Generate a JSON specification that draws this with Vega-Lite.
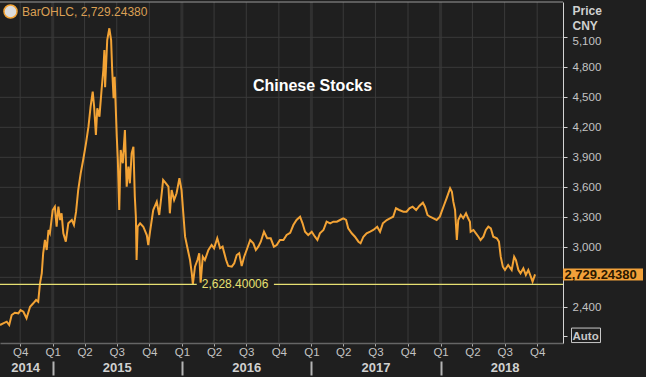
{
  "$schema": "https://vega.github.io/schema/vega-lite/v6.json",
  "width": 563,
  "height": 341,
  "autosize": "none",
  "padding": {"left": 0, "top": 2, "right": 83, "bottom": 34},
  "background": "#1f1f1f",
  "config": {
    "view": {"stroke": null},
    "font": "Liberation Sans",
    "axis": {"labelFont": "Liberation Sans", "titleFont": "Liberation Sans"},
    "legend": {"labelFont": "Liberation Sans"}
  },
  "title": {
    "text": "Chinese Stocks",
    "color": "#ffffff",
    "fontSize": 16,
    "fontWeight": "bold",
    "font": "Liberation Sans",
    "anchor": "middle",
    "frame": "group",
    "orient": "top",
    "offset": 0,
    "baseline": "middle",
    "dx": 31,
    "dy": 101
  },
  "datasets": {
    "one": [{}],
    "quarters": [
      {"q": "2014-10-01"}, {"q": "2015-01-01"}, {"q": "2015-04-01"}, {"q": "2015-07-01"}, {"q": "2015-10-01"},
      {"q": "2016-01-01"}, {"q": "2016-04-01"}, {"q": "2016-07-01"}, {"q": "2016-10-01"},
      {"q": "2017-01-01"}, {"q": "2017-04-01"}, {"q": "2017-07-01"}, {"q": "2017-10-01"},
      {"q": "2018-01-01"}, {"q": "2018-04-01"}, {"q": "2018-07-01"}, {"q": "2018-10-01"}
    ],
    "years": [{"y": "2015-01-01"}, {"y": "2016-01-01"}, {"y": "2017-01-01"}, {"y": "2018-01-01"}],
    "levels": [
      {"p": 2400}, {"p": 2700}, {"p": 3000}, {"p": 3300}, {"p": 3600},
      {"p": 3900}, {"p": 4200}, {"p": 4500}, {"p": 4800}, {"p": 5100}
    ],
    "prices": [
      {"date": "2014-08-05", "price": 2223}, {"date": "2014-08-14", "price": 2240}, {"date": "2014-08-24", "price": 2256},
      {"date": "2014-08-31", "price": 2223}, {"date": "2014-09-07", "price": 2323}, {"date": "2014-09-16", "price": 2346},
      {"date": "2014-09-26", "price": 2340}, {"date": "2014-10-02", "price": 2373}, {"date": "2014-10-10", "price": 2356},
      {"date": "2014-10-19", "price": 2290}, {"date": "2014-10-29", "price": 2406}, {"date": "2014-11-07", "price": 2440},
      {"date": "2014-11-15", "price": 2473}, {"date": "2014-11-21", "price": 2456}, {"date": "2014-11-26", "price": 2640},
      {"date": "2014-12-01", "price": 2740}, {"date": "2014-12-05", "price": 2940}, {"date": "2014-12-10", "price": 3073},
      {"date": "2014-12-15", "price": 2973}, {"date": "2014-12-20", "price": 3173}, {"date": "2014-12-24", "price": 3140},
      {"date": "2015-01-01", "price": 3373}, {"date": "2015-01-07", "price": 3406}, {"date": "2015-01-12", "price": 3206},
      {"date": "2015-01-17", "price": 3406}, {"date": "2015-01-22", "price": 3273}, {"date": "2015-01-26", "price": 3340},
      {"date": "2015-01-31", "price": 3140}, {"date": "2015-02-07", "price": 3056}, {"date": "2015-02-14", "price": 3240},
      {"date": "2015-02-24", "price": 3273}, {"date": "2015-03-02", "price": 3223}, {"date": "2015-03-08", "price": 3356},
      {"date": "2015-03-14", "price": 3573}, {"date": "2015-03-21", "price": 3740}, {"date": "2015-03-28", "price": 3873},
      {"date": "2015-04-05", "price": 4040}, {"date": "2015-04-12", "price": 4206}, {"date": "2015-04-18", "price": 4406},
      {"date": "2015-04-24", "price": 4556}, {"date": "2015-04-28", "price": 4406}, {"date": "2015-05-03", "price": 4123},
      {"date": "2015-05-07", "price": 4390}, {"date": "2015-05-13", "price": 4306}, {"date": "2015-05-19", "price": 4573},
      {"date": "2015-05-24", "price": 4773}, {"date": "2015-05-27", "price": 4973}, {"date": "2015-05-29", "price": 4600},
      {"date": "2015-06-04", "price": 5073}, {"date": "2015-06-10", "price": 5190}, {"date": "2015-06-15", "price": 5073},
      {"date": "2015-06-18", "price": 4773}, {"date": "2015-06-22", "price": 4490}, {"date": "2015-06-25", "price": 4706},
      {"date": "2015-07-01", "price": 4106}, {"date": "2015-07-04", "price": 3873}, {"date": "2015-07-08", "price": 3373},
      {"date": "2015-07-12", "price": 3973}, {"date": "2015-07-18", "price": 3840}, {"date": "2015-07-24", "price": 4173},
      {"date": "2015-07-29", "price": 3606}, {"date": "2015-08-03", "price": 3806}, {"date": "2015-08-07", "price": 3640},
      {"date": "2015-08-12", "price": 3940}, {"date": "2015-08-17", "price": 4006}, {"date": "2015-08-21", "price": 3506},
      {"date": "2015-08-24", "price": 3300}, {"date": "2015-08-26", "price": 2873}, {"date": "2015-08-29", "price": 3206},
      {"date": "2015-09-05", "price": 3240}, {"date": "2015-09-14", "price": 3206}, {"date": "2015-09-24", "price": 3120},
      {"date": "2015-09-28", "price": 3023}, {"date": "2015-10-03", "price": 3156}, {"date": "2015-10-12", "price": 3373},
      {"date": "2015-10-22", "price": 3456}, {"date": "2015-10-29", "price": 3323}, {"date": "2015-11-05", "price": 3540},
      {"date": "2015-11-09", "price": 3673}, {"date": "2015-11-17", "price": 3640}, {"date": "2015-11-24", "price": 3606},
      {"date": "2015-11-28", "price": 3340}, {"date": "2015-12-03", "price": 3573}, {"date": "2015-12-10", "price": 3473},
      {"date": "2015-12-17", "price": 3540}, {"date": "2015-12-25", "price": 3690}, {"date": "2015-12-31", "price": 3573},
      {"date": "2016-01-05", "price": 3340}, {"date": "2016-01-10", "price": 3106}, {"date": "2016-01-16", "price": 3006},
      {"date": "2016-01-24", "price": 2873}, {"date": "2016-01-29", "price": 2740}, {"date": "2016-02-01", "price": 2630},
      {"date": "2016-02-07", "price": 2806}, {"date": "2016-02-14", "price": 2873}, {"date": "2016-02-19", "price": 2940},
      {"date": "2016-02-23", "price": 2646}, {"date": "2016-02-29", "price": 2906}, {"date": "2016-03-06", "price": 2873},
      {"date": "2016-03-16", "price": 2973}, {"date": "2016-03-25", "price": 3023}, {"date": "2016-04-01", "price": 2990},
      {"date": "2016-04-10", "price": 3090}, {"date": "2016-04-18", "price": 2990}, {"date": "2016-04-25", "price": 3006},
      {"date": "2016-05-05", "price": 2873}, {"date": "2016-05-11", "price": 2813}, {"date": "2016-05-21", "price": 2806},
      {"date": "2016-05-28", "price": 2840}, {"date": "2016-06-04", "price": 2923}, {"date": "2016-06-11", "price": 2940},
      {"date": "2016-06-18", "price": 2813}, {"date": "2016-06-25", "price": 2906}, {"date": "2016-07-02", "price": 2973},
      {"date": "2016-07-12", "price": 3073}, {"date": "2016-07-21", "price": 3040}, {"date": "2016-07-28", "price": 2973},
      {"date": "2016-08-04", "price": 3006}, {"date": "2016-08-11", "price": 3056}, {"date": "2016-08-20", "price": 3156},
      {"date": "2016-08-29", "price": 3090}, {"date": "2016-09-08", "price": 3090}, {"date": "2016-09-17", "price": 3006},
      {"date": "2016-09-25", "price": 3023}, {"date": "2016-10-04", "price": 3073}, {"date": "2016-10-14", "price": 3073},
      {"date": "2016-10-23", "price": 3123}, {"date": "2016-11-02", "price": 3145}, {"date": "2016-11-11", "price": 3223},
      {"date": "2016-11-20", "price": 3273}, {"date": "2016-11-30", "price": 3306}, {"date": "2016-12-07", "price": 3240},
      {"date": "2016-12-14", "price": 3156}, {"date": "2016-12-23", "price": 3123}, {"date": "2017-01-02", "price": 3156},
      {"date": "2017-01-11", "price": 3106}, {"date": "2017-01-18", "price": 3073}, {"date": "2017-01-25", "price": 3140},
      {"date": "2017-02-04", "price": 3173}, {"date": "2017-02-13", "price": 3256}, {"date": "2017-02-23", "price": 3240},
      {"date": "2017-03-04", "price": 3256}, {"date": "2017-03-14", "price": 3256}, {"date": "2017-03-23", "price": 3273},
      {"date": "2017-04-01", "price": 3290}, {"date": "2017-04-09", "price": 3273}, {"date": "2017-04-15", "price": 3190},
      {"date": "2017-04-25", "price": 3140}, {"date": "2017-05-04", "price": 3106}, {"date": "2017-05-14", "price": 3056},
      {"date": "2017-05-20", "price": 3040}, {"date": "2017-05-28", "price": 3106}, {"date": "2017-06-06", "price": 3140},
      {"date": "2017-06-16", "price": 3156}, {"date": "2017-06-25", "price": 3173}, {"date": "2017-07-06", "price": 3206},
      {"date": "2017-07-14", "price": 3156}, {"date": "2017-07-22", "price": 3240}, {"date": "2017-08-02", "price": 3273},
      {"date": "2017-08-11", "price": 3290}, {"date": "2017-08-20", "price": 3306}, {"date": "2017-08-28", "price": 3390},
      {"date": "2017-09-06", "price": 3373}, {"date": "2017-09-18", "price": 3356}, {"date": "2017-09-27", "price": 3356},
      {"date": "2017-10-05", "price": 3390}, {"date": "2017-10-14", "price": 3406}, {"date": "2017-10-24", "price": 3373},
      {"date": "2017-11-02", "price": 3413}, {"date": "2017-11-12", "price": 3446}, {"date": "2017-11-18", "price": 3406},
      {"date": "2017-11-25", "price": 3323}, {"date": "2017-12-02", "price": 3306}, {"date": "2017-12-12", "price": 3290},
      {"date": "2017-12-21", "price": 3273}, {"date": "2017-12-30", "price": 3306}, {"date": "2018-01-04", "price": 3356},
      {"date": "2018-01-11", "price": 3423}, {"date": "2018-01-18", "price": 3490}, {"date": "2018-01-23", "price": 3540},
      {"date": "2018-01-28", "price": 3590}, {"date": "2018-02-02", "price": 3556}, {"date": "2018-02-06", "price": 3456},
      {"date": "2018-02-11", "price": 3373}, {"date": "2018-02-16", "price": 3073}, {"date": "2018-02-20", "price": 3273},
      {"date": "2018-02-27", "price": 3323}, {"date": "2018-03-06", "price": 3290}, {"date": "2018-03-14", "price": 3340},
      {"date": "2018-03-20", "price": 3290}, {"date": "2018-03-25", "price": 3256}, {"date": "2018-03-27", "price": 3156},
      {"date": "2018-04-04", "price": 3173}, {"date": "2018-04-11", "price": 3140}, {"date": "2018-04-18", "price": 3106},
      {"date": "2018-04-24", "price": 3073}, {"date": "2018-05-02", "price": 3106}, {"date": "2018-05-09", "price": 3173},
      {"date": "2018-05-16", "price": 3206}, {"date": "2018-05-23", "price": 3190}, {"date": "2018-05-30", "price": 3106},
      {"date": "2018-06-09", "price": 3090}, {"date": "2018-06-15", "price": 3056}, {"date": "2018-06-20", "price": 2906},
      {"date": "2018-06-26", "price": 2806}, {"date": "2018-07-02", "price": 2773}, {"date": "2018-07-11", "price": 2823},
      {"date": "2018-07-21", "price": 2773}, {"date": "2018-07-28", "price": 2906}, {"date": "2018-08-02", "price": 2873},
      {"date": "2018-08-09", "price": 2773}, {"date": "2018-08-15", "price": 2740}, {"date": "2018-08-23", "price": 2790},
      {"date": "2018-08-30", "price": 2723}, {"date": "2018-09-06", "price": 2773}, {"date": "2018-09-13", "price": 2706},
      {"date": "2018-09-18", "price": 2656}, {"date": "2018-09-25", "price": 2729.2438}
    ]
  },
  "resolve": {"axis": {"x": "independent", "y": "independent"}},
  "layer": [
    {
      "data": {"name": "quarters"},
      "mark": {"type": "rule", "color": "#3a3a3a", "strokeWidth": 1},
      "encoding": {"x": {"field": "q", "type": "temporal", "axis": null}}
    },
    {
      "data": {"name": "years"},
      "mark": {"type": "rule", "color": "#303030", "strokeWidth": 3},
      "encoding": {"x": {"field": "y", "type": "temporal", "axis": null}}
    },
    {
      "data": {"name": "levels"},
      "mark": {"type": "rule", "color": "#3a3a3a", "strokeWidth": 1},
      "encoding": {"y": {"field": "p", "type": "quantitative", "axis": null}}
    },
    {
      "data": {"name": "prices"},
      "mark": {"type": "line", "color": "#f3a335", "strokeWidth": 2, "strokeJoin": "miter"},
      "encoding": {
        "x": {
          "field": "date",
          "type": "temporal",
          "scale": {
            "type": "utc",
            "domain": [{"year": 2014, "month": 8, "date": 5, "utc": true}, {"year": 2018, "month": 12, "date": 13, "utc": true}]
          },
          "axis": {
            "orient": "bottom",
            "title": null,
            "values": [
              {"year": 2014, "month": 10, "date": 1, "utc": true},
              {"year": 2015, "month": 1, "date": 1, "utc": true}, {"year": 2015, "month": 4, "date": 1, "utc": true},
              {"year": 2015, "month": 7, "date": 1, "utc": true}, {"year": 2015, "month": 10, "date": 1, "utc": true},
              {"year": 2016, "month": 1, "date": 1, "utc": true}, {"year": 2016, "month": 4, "date": 1, "utc": true},
              {"year": 2016, "month": 7, "date": 1, "utc": true}, {"year": 2016, "month": 10, "date": 1, "utc": true},
              {"year": 2017, "month": 1, "date": 1, "utc": true}, {"year": 2017, "month": 4, "date": 1, "utc": true},
              {"year": 2017, "month": 7, "date": 1, "utc": true}, {"year": 2017, "month": 10, "date": 1, "utc": true},
              {"year": 2018, "month": 1, "date": 1, "utc": true}, {"year": 2018, "month": 4, "date": 1, "utc": true},
              {"year": 2018, "month": 7, "date": 1, "utc": true}, {"year": 2018, "month": 10, "date": 1, "utc": true}
            ],
            "labelExpr": "'Q' + utcquarter(datum.value)",
            "grid": false,
            "domainColor": "#666666",
            "domainWidth": 1.5,
            "tickColor": "#b0b0b0",
            "tickSize": 3,
            "labelColor": "#c4c4c4",
            "labelFontSize": 11.5,
            "labelPadding": 0,
            "labelFlush": false,
            "labelOverlap": false
          }
        },
        "y": {
          "field": "price",
          "type": "quantitative",
          "scale": {"domain": [2043, 5453], "zero": false, "nice": false},
          "axis": {
            "orient": "right",
            "values": [2400, 2700, 3000, 3300, 3600, 3900, 4200, 4500, 4800, 5100],
            "labelExpr": "datum.value == 2700 ? '' : format(datum.value, ',')",
            "grid": false,
            "domainColor": "#d4d4d4",
            "tickColor": "#d4d4d4",
            "tickSize": 4,
            "labelColor": "#c4c4c4",
            "labelFontSize": 11.5,
            "labelPadding": 5,
            "labelOffset": {"condition": {"test": "datum.value == 5100", "value": 4}, "value": 0},
            "title": ["Price", "CNY"],
            "titleAngle": 0,
            "titleAlign": "left",
            "titleBaseline": "top",
            "titleX": 9,
            "titleY": 3,
            "titleColor": "#d0d0d0",
            "titleFontSize": 12,
            "titleFontWeight": "bold",
            "titleLineHeight": 15
          }
        },
        "color": {
          "datum": "BarOHLC, 2,729.24380",
          "scale": {"range": ["#f3a335"]},
          "legend": {
            "orient": "none",
            "legendX": 3,
            "legendY": 2,
            "title": null,
            "padding": 0,
            "symbolType": "circle",
            "symbolSize": 170,
            "symbolStrokeWidth": 1.5,
            "labelColor": "#dba055",
            "labelFontSize": 12,
            "labelOffset": 4,
            "encode": {
              "symbols": {"update": {"fill": {"value": "#dcdcdc"}, "stroke": {"value": "#8c8c8c"}, "opacity": {"value": 1}}}
            }
          }
        }
      }
    },
    {
      "data": {"name": "prices"},
      "mark": {"type": "line", "opacity": 0},
      "encoding": {
        "x": {
          "field": "date",
          "type": "temporal",
          "axis": {
            "orient": "bottom",
            "offset": 18,
            "title": null,
            "values": [
              {"year": 2014, "month": 10, "date": 15, "utc": true},
              {"year": 2015, "month": 1, "date": 1, "utc": true}, {"year": 2015, "month": 7, "date": 1, "utc": true},
              {"year": 2016, "month": 1, "date": 1, "utc": true}, {"year": 2016, "month": 7, "date": 1, "utc": true},
              {"year": 2017, "month": 1, "date": 1, "utc": true}, {"year": 2017, "month": 7, "date": 1, "utc": true},
              {"year": 2018, "month": 1, "date": 1, "utc": true}, {"year": 2018, "month": 7, "date": 1, "utc": true}
            ],
            "labelExpr": "utcmonth(datum.value) == 0 ? '' : '' + utcyear(datum.value)",
            "domain": false,
            "grid": false,
            "tickSize": 14,
            "tickWidth": 2,
            "tickColor": "#b4b4b4",
            "tickOpacity": {"condition": {"test": "utcmonth(datum.value) == 0", "value": 1}, "value": 0},
            "labelColor": "#d0d0d0",
            "labelFontSize": 13,
            "labelFontWeight": "bold",
            "labelPadding": -14,
            "labelFlush": false,
            "labelOverlap": false,
            "labelBound": false
          }
        },
        "y": {"field": "price", "type": "quantitative", "axis": null}
      }
    },
    {
      "data": {"name": "one"},
      "mark": {"type": "rule", "color": "#9a9a9a", "strokeWidth": 1},
      "encoding": {"y": {"datum": 5453, "axis": null}}
    },
    {
      "data": {"name": "one"},
      "mark": {"type": "rule", "color": "#e6e072", "strokeWidth": 1.3},
      "encoding": {
        "x": {"datum": {"year": 2014, "month": 8, "date": 5, "utc": true}, "type": "temporal", "axis": null},
        "x2": {"datum": {"year": 2016, "month": 2, "date": 12, "utc": true}},
        "y": {"datum": 2628.40006, "axis": null}
      }
    },
    {
      "data": {"name": "one"},
      "mark": {"type": "rule", "color": "#e6e072", "strokeWidth": 1.3},
      "encoding": {
        "x": {"datum": {"year": 2016, "month": 9, "date": 17, "utc": true}, "type": "temporal", "axis": null},
        "x2": {"datum": {"year": 2018, "month": 12, "date": 13, "utc": true}},
        "y": {"datum": 2628.40006, "axis": null}
      }
    },
    {
      "data": {"name": "one"},
      "mark": {"type": "text", "align": "left", "baseline": "middle", "fontSize": 12, "color": "#e6e072"},
      "encoding": {
        "x": {"datum": {"year": 2016, "month": 2, "date": 26, "utc": true}, "type": "temporal", "axis": null},
        "y": {"datum": 2628.40006, "axis": null},
        "text": {"value": "2,628.40006"}
      }
    },
    {
      "data": {"name": "one"},
      "mark": {"type": "point", "shape": "M0,-0.15L2,-0.15L2,0.15L0,0.15Z", "size": 6400, "filled": true, "color": "#f2a13a", "opacity": 1, "strokeWidth": 0},
      "encoding": {
        "x": {"datum": {"year": 2018, "month": 12, "date": 13, "utc": true}, "type": "temporal", "axis": null},
        "y": {"datum": 2729.2438, "axis": null}
      }
    },
    {
      "data": {"name": "one"},
      "mark": {"type": "text", "align": "left", "baseline": "middle", "fontSize": 13, "fontWeight": "bold", "color": "#2a1800", "dx": 1.5, "dy": 0.5},
      "encoding": {
        "x": {"datum": {"year": 2018, "month": 12, "date": 13, "utc": true}, "type": "temporal", "axis": null},
        "y": {"datum": 2729.2438, "axis": null},
        "text": {"value": "2,729.24380"}
      }
    },
    {
      "data": {"name": "one"},
      "mark": {"type": "point", "shape": "M0,-0.5L2,-0.5L2,0.5L0,0.5Z", "size": 841, "filled": false, "color": "#c8c8c8", "strokeWidth": 1, "opacity": 1, "xOffset": 8.5, "yOffset": -1},
      "encoding": {
        "x": {"datum": {"year": 2018, "month": 12, "date": 13, "utc": true}, "type": "temporal", "axis": null},
        "y": {
          "datum": 2110,
          "axis": {
            "orient": "right",
            "values": [2110],
            "labelExpr": "'Auto'",
            "title": null,
            "grid": false,
            "domain": false,
            "tickColor": "#d4d4d4",
            "tickSize": 4,
            "labelColor": "#c8c8c8",
            "labelFontSize": 11.5,
            "labelFontWeight": "bold",
            "labelPadding": 5
          }
        }
      }
    }
  ]
}
